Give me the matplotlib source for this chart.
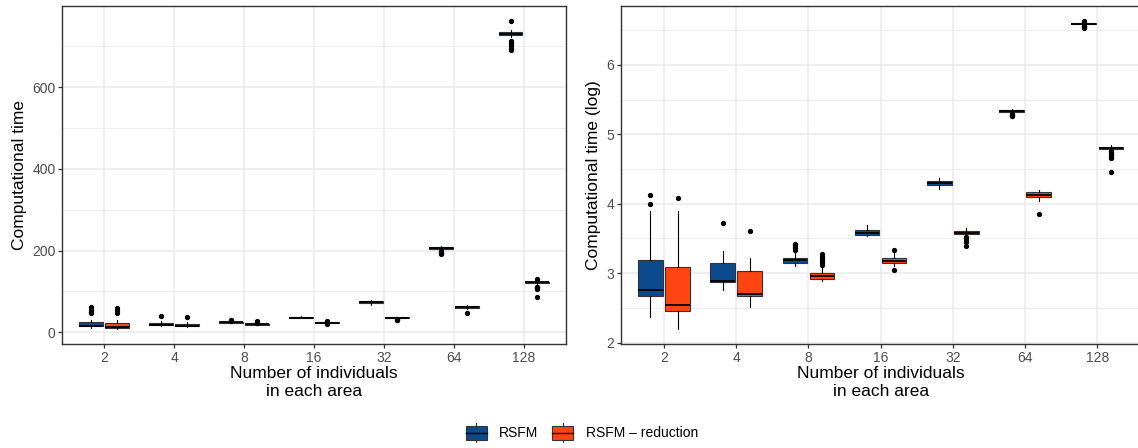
"""
Boxplots of computational time (raw and log) by number of individuals per area
"""
import numpy as np
import matplotlib.pyplot as plt
from matplotlib.patches import Rectangle
from matplotlib.lines import Line2D
from matplotlib.legend_handler import HandlerBase

plt.rcParams['font.family'] = ['Liberation Sans', 'DejaVu Sans']

sizes = ['2', '4', '8', '16', '32', '64', '128']
methods = ['RSFM', 'RSFM \u2013 reduction']
colors = ['#0B4A8C', '#FF4512']

# box stats per group: (lower whisker, q1, median, q3, upper whisker)
time_rsfm = [(10.6, 14.4, 16.5, 25.0, 31.0), (15.8, 17.7, 18.0, 23.2, 27.8),
             (22.4, 23.3, 24.2, 25.0, 27.0), (34.0, 35.0, 36.0, 37.2, 40.0),
             (68.0, 72.0, 74.0, 76.0, 79.0), (202.0, 205.0, 207.0, 209.0, 212.0),
             (722.0, 727.0, 731.0, 735.0, 740.0)]
time_rsfm_out = [[62, 55, 50, 47], [41], [28.5, 29.5, 30.5], [], [],
                 [198, 196, 194, 192], [762, 712, 708, 703, 697, 690]]
time_red = [(9.0, 11.7, 12.8, 22.0, 30.0), (12.3, 14.5, 15.0, 20.6, 25.0),
            (17.9, 18.6, 19.2, 20.0, 21.5), (22.4, 23.1, 24.0, 25.0, 26.8),
            (34.0, 35.0, 36.0, 37.0, 38.3), (57.0, 60.0, 62.0, 64.0, 66.5),
            (119.5, 121.0, 122.5, 124.0, 127.6)]
time_red_out = [[60, 54, 48], [36.7], [23, 24, 25, 26.5], [28, 21],
                [31.5, 30, 29.5], [47.3], [130, 112, 110, 108, 105, 86]]

log_rsfm = [(2.37, 2.667, 2.758, 3.189, 3.89), (2.763, 2.873, 2.892, 3.146, 3.324),
            (3.108, 3.151, 3.185, 3.218, 3.30), (3.53, 3.549, 3.583, 3.616, 3.693),
            (4.211, 4.273, 4.302, 4.331, 4.369), (5.31, 5.319, 5.333, 5.348, 5.367),
            (6.575, 6.585, 6.593, 6.600, 6.612)]
log_rsfm_out = [[4.12, 4.0], [3.722], [3.34, 3.36, 3.38, 3.40, 3.42], [], [],
                [5.29, 5.28, 5.27, 5.26], [6.632, 6.62, 6.56, 6.55, 6.54, 6.53]]
log_red = [(2.201, 2.456, 2.547, 3.089, 3.90), (2.513, 2.671, 2.705, 3.026, 3.218),
           (2.883, 2.921, 2.954, 2.998, 3.10), (3.11, 3.141, 3.18, 3.218, 3.29),
           (3.53, 3.559, 3.583, 3.607, 3.645), (4.04, 4.096, 4.13, 4.163, 4.197),
           (4.78, 4.796, 4.81, 4.82, 4.849)]
log_red_out = [[4.086], [3.602], [3.12, 3.15, 3.18, 3.21, 3.24, 3.28],
               [3.33, 3.04], [3.52, 3.50, 3.48, 3.45, 3.386], [3.856],
               [4.76, 4.74, 4.72, 4.70, 4.68, 4.66, 4.456]]


def to_bxp(stats, outliers):
    out = []
    for (lo, q1, med, q3, hi), fl in zip(stats, outliers):
        out.append({'whislo': lo, 'q1': q1, 'med': med, 'q3': q3,
                    'whishi': hi, 'fliers': fl})
    return out


def draw_panel(ax, series, yticks, ylabel):
    x = np.arange(len(sizes))
    offset = 0.1875
    allvals = []
    for i, (stats, outl) in enumerate(series):
        ax.bxp(to_bxp(stats, outl), positions=x + (i * 2 - 1) * offset,
               widths=0.34, patch_artist=True, showcaps=False,
               boxprops=dict(facecolor=colors[i], edgecolor='#333333', linewidth=0.8),
               medianprops=dict(color='black', linewidth=1.3),
               whiskerprops=dict(color='black', linewidth=0.8),
               flierprops=dict(marker='o', markerfacecolor='black',
                               markeredgecolor='black', markersize=2.8),
               manage_ticks=False, zorder=3)
        for s, o in zip(stats, outl):
            allvals += list(s) + list(o)
    lo, hi = min(allvals), max(allvals)
    pad = (hi - lo) * 0.05
    ax.set_ylim(lo - pad, hi + pad)
    ax.set_xlim(-0.6, len(sizes) - 0.4)
    ax.set_xticks(x)
    ax.set_xticklabels(sizes)
    ax.set_yticks(yticks)
    ax.set_yticks([(a + b) / 2 for a, b in zip(yticks[:-1], yticks[1:])] +
                  [yticks[-1] + (yticks[1] - yticks[0]) / 2], minor=True)
    ax.grid(which='major', color='#EBEBEB', linewidth=1.1, zorder=0)
    ax.grid(which='minor', axis='y', color='#EBEBEB', linewidth=0.6, zorder=0)
    ax.set_axisbelow(True)
    ax.tick_params(which='major', length=2.75, width=0.9, color='#333333',
                   labelsize=10, labelcolor='#4D4D4D', pad=2)
    ax.tick_params(which='minor', length=0)
    for sp in ax.spines.values():
        sp.set_color('#333333')
        sp.set_linewidth(1.0)
    ax.set_xlabel('Number of individuals\nin each area', fontsize=12.5,
                  labelpad=1, linespacing=1.25)
    ax.set_ylabel(ylabel, fontsize=12.5, labelpad=4)


class BoxKey(HandlerBase):
    def create_artists(self, legend, orig_handle, xdescent, ydescent,
                       width, height, fontsize, trans):
        x0, y0 = -xdescent, -ydescent
        cx = x0 + width / 2
        wh = Line2D([cx, cx], [y0 - height * 0.15, y0 + height * 1.15],
                    color='#333333', lw=0.8, transform=trans)
        box = Rectangle((x0, y0), width, height, facecolor=orig_handle.get_facecolor(),
                        edgecolor='#333333', lw=0.8, transform=trans)
        med = Line2D([x0, x0 + width], [y0 + height / 2] * 2, color='black',
                     lw=1.0, transform=trans)
        return [wh, box, med]


fig = plt.figure(figsize=(11.38, 4.48), dpi=100)
ax1 = fig.add_axes([0.0547, 0.2321, 0.4423, 0.7552])
ax2 = fig.add_axes([0.5454, 0.2321, 0.4569, 0.7552])

draw_panel(ax1, [(time_rsfm, time_rsfm_out), (time_red, time_red_out)],
           [0, 200, 400, 600], 'Computational time')
draw_panel(ax2, [(log_rsfm, log_rsfm_out), (log_red, log_red_out)],
           [2, 3, 4, 5, 6], 'Computational time (log)')

handles = [Rectangle((0, 0), 1, 1, facecolor=c) for c in colors]
fig.legend(handles, methods, handler_map={Rectangle: BoxKey()},
           loc='center', bbox_to_anchor=(582 / 1138, 1 - 433 / 448), ncol=2,
           frameon=False, fontsize=10, handlelength=1.5, handleheight=1.2,
           handletextpad=0.9, columnspacing=1.0)

fig.savefig('out.png', dpi=100)
